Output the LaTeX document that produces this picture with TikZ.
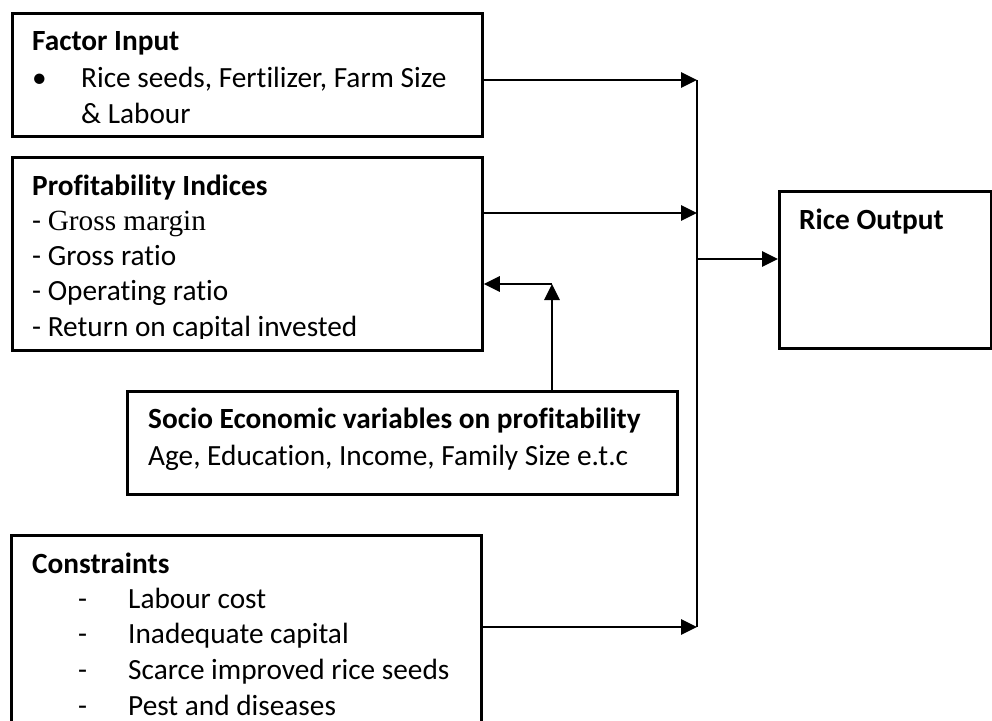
\documentclass[tikz,border=0pt]{standalone}
\usepackage{fontspec}
\setmainfont{Carlito}[Ligatures=NoCommon]
\newfontfamily\tnr{Liberation Serif}
\usetikzlibrary{arrows.meta}
\begin{document}
\begin{tikzpicture}[x=1pt,y=-1pt,
  box/.style={draw, line width=2.8pt, rectangle, anchor=north west, inner sep=0pt},
  txt/.style={anchor=base west, inner sep=0pt, font=\fontsize{29.3}{35}\selectfont},
  head/.style={anchor=base west, inner sep=0pt, font=\fontsize{29.3}{35}\selectfont\bfseries},
  conn/.style={line width=2.9pt},
  arr/.style={conn, -{Triangle[length=16pt,width=15pt]}},
]
\useasboundingbox (0,0) rectangle (992,720);
\clip (0,0) rectangle (992,720);

% boxes
\node[box, minimum width=470pt, minimum height=123pt] (fi) at (11,12) {};
\node[box, minimum width=470pt, minimum height=193pt] (pi) at (11,156) {};
\node[box, minimum width=550pt, minimum height=103pt] (se) at (126,390) {};
\node[box, minimum width=470pt, minimum height=230pt] (co) at (10,534) {};
\node[box, minimum width=212pt, minimum height=157pt] (ro) at (778,190) {};

% Factor input text
\node[head] (fiH) at (32,50) {Factor Input};
\node[txt] (fiB) at (32,87) {•};
\node[txt] (fi1) at (81,87) {Rice seeds, Fertilizer, Farm Size};
\node[txt] (fi2) at (81,123) {\& Labour};

% Profitability text
\node[head] (piH) at (32,195) {Profitability Indices};
\node[txt] (pi1) at (32,230) {- {\tnr Gross margin}};
\node[txt] (pi2) at (32,265) {- Gross ratio};
\node[txt] (pi3) at (32,300) {- Operating ratio};
\begin{scope}
\clip (0,0) rectangle (992,338);
\node[txt] (pi4) at (32,336) {- Return on capital invested};
\end{scope}

% Socio text
\node[head] (seH) at (148,428) {Socio Economic variables on profitability};
\node[txt] (se1) at (148,465) {Age, Education, Income, Family Size e.t.c};

% Constraints text
\node[head] (coH) at (32,573) {Constraints};
\node[txt] (cd1) at (78,608) {-};
\node[txt] (c1) at (128,608) {Labour cost};
\node[txt] (cd2) at (78,643) {-};
\node[txt] (c2) at (128,643) {Inadequate capital};
\node[txt] (cd3) at (78,679) {-};
\node[txt] (c3) at (128,679) {Scarce improved rice seeds};
\node[txt] (cd4) at (78,715) {-};
\node[txt] (c4) at (128,715) {Pest and diseases};

% Rice output text
\node[head] (roH) at (799,229) {Rice Output};

% connectors
\coordinate (b1) at (697,80);
\coordinate (b2) at (697,213);
\coordinate (b3) at (697,259);
\coordinate (b4) at (697,627);
\coordinate (fb) at (552,284);
\draw[conn] (b1) -- (b4);
\draw[arr] (fi.east |- b1) -- (b1);
\draw[arr] (pi.east |- b2) -- (b2);
\draw[arr] (co.east |- b4) -- (b4);
\draw[arr] (b3) -- (ro.west |- b3);
\draw[arr] (se.north -| fb) -- (fb);
\draw[arr] (fb) -- (pi.east |- fb);
\end{tikzpicture}
\end{document}
